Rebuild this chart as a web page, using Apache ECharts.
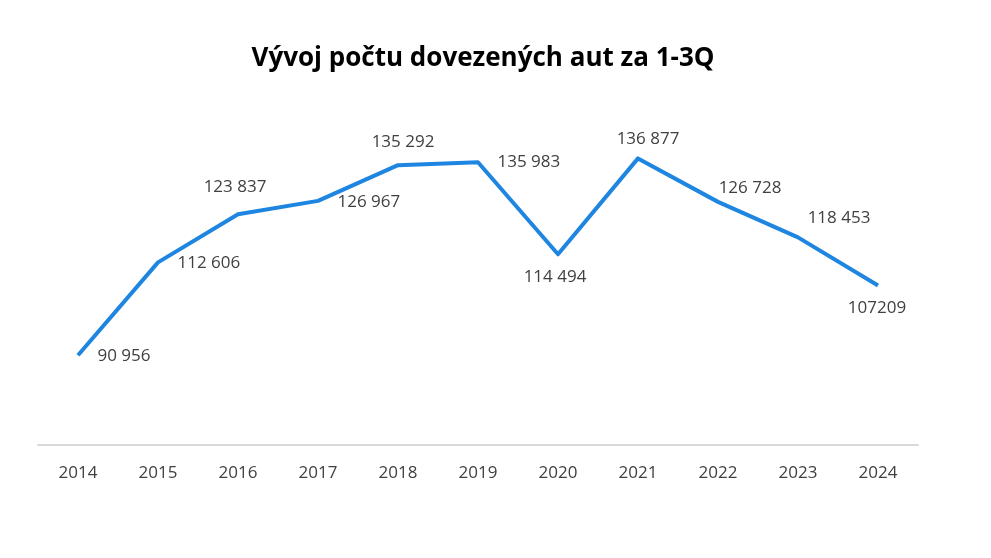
<!DOCTYPE html>
<html>
<head>
<meta charset="utf-8">
<title>Vývoj počtu dovezených aut za 1-3Q</title>
<script src="https://cdn.jsdelivr.net/npm/echarts@6/dist/echarts.min.js"></script>
<style>
	html,body{margin:0;padding:0;background:#fff;}
	#main{width:991px;height:558px;}
</style>
</head>
<body>
<div id="main"></div>
<script type="text/javascript">
// data
var years = ['2014','2015','2016','2017','2018','2019','2020','2021','2022','2023','2024'];
var imported = [90956, 112606, 123837, 126967, 135292, 135983, 114494, 136877, 126728, 118453, 107209];
var valueLabels = ['90 956','112 606','123 837','126 967','135 292','135 983','114 494','136 877','126 728','118 453','107209'];

// where each value label sits relative to its point
var labelPos = ['right','right','top','right','top','right','bottom','top','top','top','bottom'];
var labelOffset = [[14,1],[14,1],[-3,-13],[14,1],[5,-9],[14,0],[-3,9],[10,-5],[32,0],[41,-5],[-1,9]];

var points = imported.map(function(v, i){
	return {
		value: v,
		label: {position: labelPos[i], offset: labelOffset[i]}
	};
});

var myChart = echarts.init(document.getElementById('main'));
var option = {
	animation: false,
	title: {
		text: 'Vývoj počtu dovezených aut za 1-3Q',
		left: 478,
		textAlign: 'center',
		top: 41,
		textStyle: {fontFamily: 'Open Sans', fontSize: 26, fontWeight: 'bold', color: '#000'}
	},
	grid: {left: 38, right: 73, top: 145, bottom: 113},
	xAxis: {
		type: 'category',
		data: years,
		boundaryGap: true,
		axisLine: {lineStyle: {color: '#d9d9d9', width: 2}},
		axisTick: {show: false},
		axisLabel: {margin: 20, fontFamily: 'Open Sans', fontSize: 17, color: '#404040'}
	},
	yAxis: {
		type: 'value',
		min: 70000,
		max: 140000,
		show: false,
		splitLine: {show: false}
	},
	series: [{
		type: 'line',
		data: points,
		symbol: 'circle',
		symbolSize: 1,
		showSymbol: true,
		itemStyle: {color: 'rgba(0,0,0,0)'},
		lineStyle: {color: '#1e86e0', width: 4, join: 'round'},
		label: {
			show: true,
			fontFamily: 'Open Sans',
			fontSize: 17,
			color: '#404040',
			formatter: function(p){ return valueLabels[p.dataIndex]; }
		}
	}]
};
myChart.setOption(option);
</script>
</body>
</html>
